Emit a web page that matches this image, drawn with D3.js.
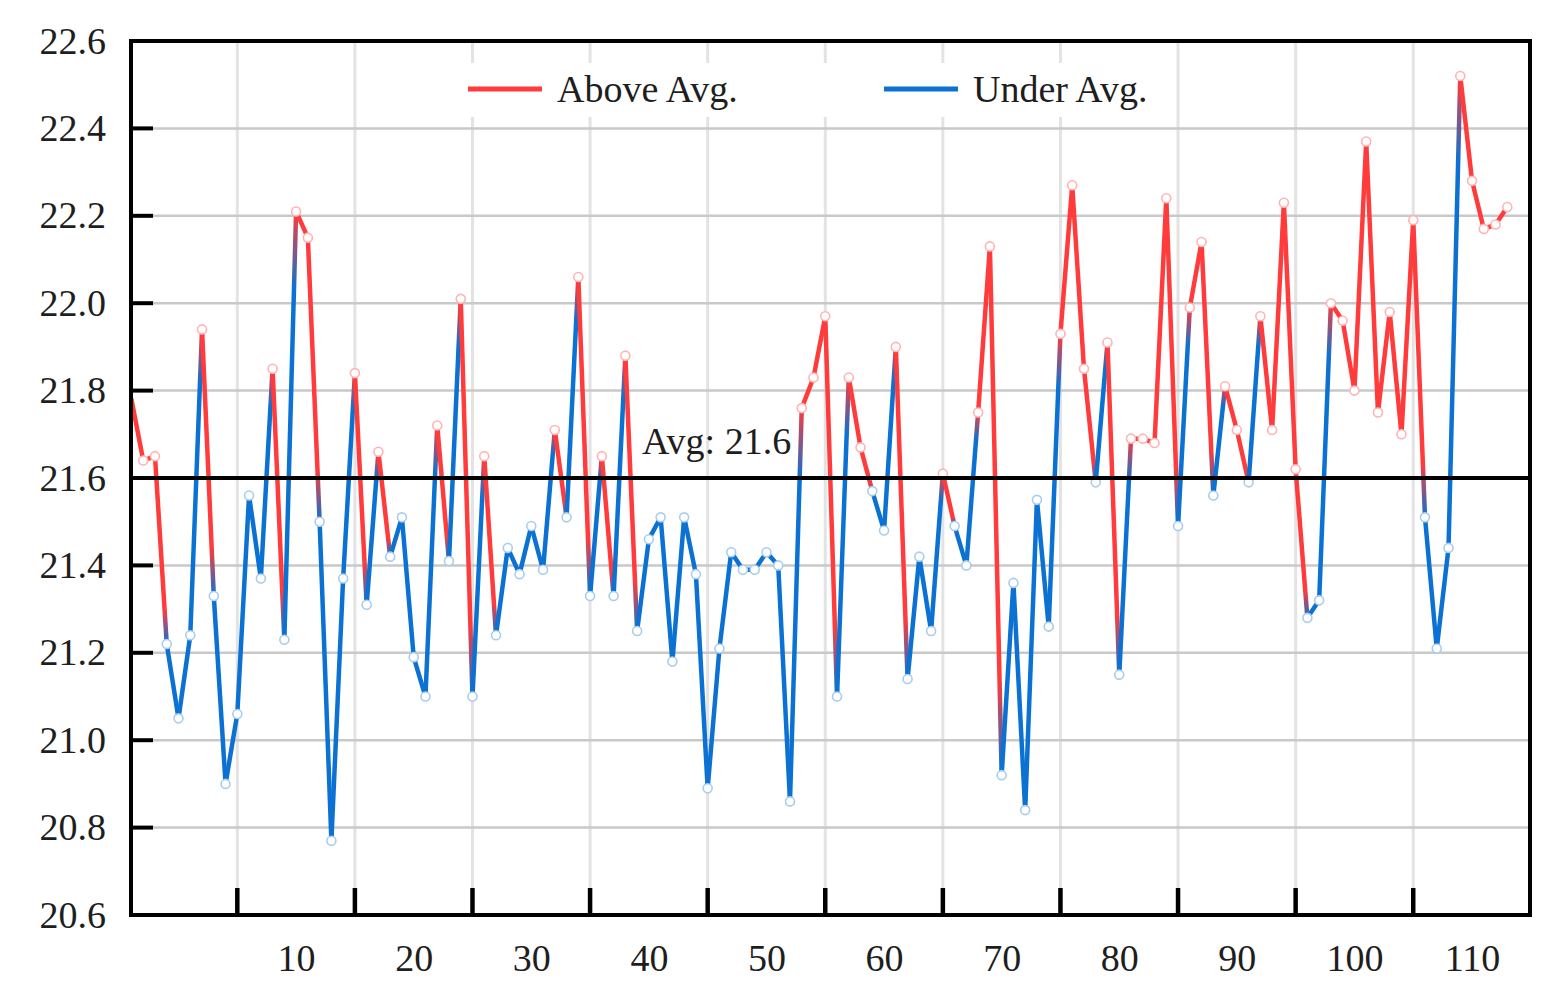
<!DOCTYPE html>
<html>
<head>
<meta charset="utf-8">
<script src="https://cdn.jsdelivr.net/npm/d3@7/dist/d3.min.js"></script>
<style>
  html, body { margin: 0; padding: 0; background: #ffffff; }
  svg { display: block; }
  text { font-family: "Liberation Serif", "DejaVu Serif", serif; fill: #1e1e1e; }
</style>
</head>
<body>
<svg id="chart" width="1561" height="991"></svg>
<script>
// ---------------- data ----------------
const avgValue = 21.6;
const firstIndex = -4;
const values = [
  21.78, 21.64, 21.65, 21.22,
  21.05, 21.24, 21.94, 21.33, 20.90, 21.06, 21.56, 21.37, 21.85, 21.23,
  22.21, 22.15, 21.50, 20.77, 21.37, 21.84, 21.31, 21.66, 21.42, 21.51,
  21.19, 21.10, 21.72, 21.41, 22.01, 21.10, 21.65, 21.24, 21.44, 21.38,
  21.49, 21.39, 21.71, 21.51, 22.06, 21.33, 21.65, 21.33, 21.88, 21.25,
  21.46, 21.51, 21.18, 21.51, 21.38, 20.89, 21.21, 21.43, 21.39, 21.39,
  21.43, 21.40, 20.86, 21.76, 21.83, 21.97, 21.10, 21.83, 21.67, 21.57,
  21.48, 21.90, 21.14, 21.42, 21.25, 21.61, 21.49, 21.40, 21.75, 22.13,
  20.92, 21.36, 20.84, 21.55, 21.26, 21.93, 22.27, 21.85, 21.59, 21.91,
  21.15, 21.69, 21.69, 21.68, 22.24, 21.49, 21.99, 22.14, 21.56, 21.81,
  21.71, 21.59, 21.97, 21.71, 22.23, 21.62, 21.28, 21.32, 22.00, 21.96,
  21.80, 22.37, 21.75, 21.98, 21.70, 22.19, 21.51, 21.21, 21.44, 22.52,
  22.28, 22.17, 22.18, 22.22
];
const indices = values.map((v, i) => firstIndex + i);
const yTickValues = [20.6, 20.8, 21.0, 21.2, 21.4, 21.6, 21.8, 22.0, 22.2, 22.4, 22.6];
const xTickMarks = [5, 15, 25, 35, 45, 55, 65, 75, 85, 95, 105];
const xTickLabels = [10, 20, 30, 40, 50, 60, 70, 80, 90, 100, 110];
const legendLabels = ["Above Avg.", "Under Avg."];

// ---------------- layout ----------------
const pLeft = 131, pRight = 1530, pTop = 41, pBottom = 915;
const RED = "#ff3b3b", BLUE = "#0b72d3";
const FS = 38;

const svg = d3.select("#chart");
const x = d3.scaleLinear().domain([-4.04, 114.93]).range([pLeft, pRight]);
const y = d3.scaleLinear().domain([20.6, 22.6]).range([pBottom, pTop]);

// grid
const grid = svg.append("g");
grid.selectAll("line.v").data(xTickMarks).join("line")
  .attr("class", "v")
  .attr("x1", d => x(d)).attr("x2", d => x(d))
  .attr("y1", pTop).attr("y2", pBottom)
  .attr("stroke", "#e3e3e3").attr("stroke-width", 3);
grid.selectAll("line.h").data(yTickValues.filter(v => v > 20.6 && v < 22.6 && v !== avgValue)).join("line")
  .attr("class", "h")
  .attr("x1", pLeft).attr("x2", pRight)
  .attr("y1", d => y(d)).attr("y2", d => y(d))
  .attr("stroke", "#c9c9c9").attr("stroke-width", 2.5);

// legend background (covers gridlines)
svg.append("rect").attr("x", 455).attr("y", 63).attr("width", 710).attr("height", 54).attr("fill", "#fff");

// y axis
const yAxis = d3.axisLeft(y).tickValues(yTickValues).tickSize(0).tickPadding(25)
  .tickFormat(d3.format(".1f"));
const gy = svg.append("g").attr("transform", `translate(${pLeft},0)`).call(yAxis);
gy.select(".domain").remove();
gy.selectAll("text").attr("font-size", FS).attr("font-family", "Liberation Serif, serif").attr("fill", "#1e1e1e");
// inward y tick marks
svg.append("g").selectAll("line").data(yTickValues.filter(v => v > 20.6 && v < 22.6)).join("line")
  .attr("x1", pLeft).attr("x2", pLeft + 22)
  .attr("y1", d => y(d)).attr("y2", d => y(d))
  .attr("stroke", "#000").attr("stroke-width", 4);

// x axis labels
const xAxis = d3.axisBottom(x).tickValues(xTickLabels).tickSize(0).tickPadding(29).tickFormat(d3.format("d"));
const gx = svg.append("g").attr("transform", `translate(0,${pBottom})`).call(xAxis);
gx.select(".domain").remove();
gx.selectAll("text").attr("font-size", FS).attr("font-family", "Liberation Serif, serif").attr("fill", "#1e1e1e");
// x tick marks (upward)
svg.append("g").selectAll("line").data(xTickMarks).join("line")
  .attr("x1", d => x(d)).attr("x2", d => x(d))
  .attr("y1", pBottom).attr("y2", pBottom - 27)
  .attr("stroke", "#000").attr("stroke-width", 4.5);

// data segments with gradient to next point's colour
const defs = svg.append("defs");
const pts = values.map((v, i) => ({ i: indices[i], v }));
const colorOf = v => (v > avgValue ? RED : BLUE);
const segs = d3.pairs(pts);
segs.forEach(([a, b], k) => {
  const g = defs.append("linearGradient").attr("id", "seg" + k)
    .attr("gradientUnits", "userSpaceOnUse")
    .attr("x1", x(a.i)).attr("y1", y(a.v)).attr("x2", x(b.i)).attr("y2", y(b.v));
  g.append("stop").attr("offset", 0).attr("stop-color", colorOf(a.v));
  g.append("stop").attr("offset", 0.82).attr("stop-color", colorOf(a.v));
  g.append("stop").attr("offset", 1).attr("stop-color", colorOf(b.v));
});
const lineG = svg.append("g");
lineG.selectAll("line").data(segs).join("line")
  .attr("x1", d => x(d[0].i)).attr("y1", d => y(d[0].v))
  .attr("x2", d => x(d[1].i)).attr("y2", d => y(d[1].v))
  .attr("stroke", (d, k) => `url(#seg${k})`)
  .attr("stroke-width", 4.5).attr("stroke-linecap", "round");

// markers
svg.append("g").selectAll("circle").data(pts.slice(1)).join("circle")
  .attr("cx", d => x(d.i)).attr("cy", d => y(d.v)).attr("r", 4.5)
  .attr("fill", "#fff")
  .attr("stroke", d => d.v > avgValue ? "#ffb4b4" : "#a9cdee")
  .attr("stroke-width", 1.6);

// average line
svg.append("line").attr("x1", pLeft).attr("x2", pRight)
  .attr("y1", y(avgValue)).attr("y2", y(avgValue))
  .attr("stroke", "#000").attr("stroke-width", 4);
svg.append("text").attr("x", 642).attr("y", y(avgValue) - 24)
  .attr("font-size", FS).text("Avg: " + avgValue);

// frame
svg.append("rect").attr("x", pLeft).attr("y", pTop).attr("width", pRight - pLeft).attr("height", pBottom - pTop)
  .attr("fill", "none").attr("stroke", "#000").attr("stroke-width", 4);

// legend
const legendItems = [
  { label: legendLabels[0], color: RED, x0: 468 },
  { label: legendLabels[1], color: BLUE, x0: 884 }
];
const lg = svg.append("g").selectAll("g").data(legendItems).join("g");
lg.append("line").attr("x1", d => d.x0).attr("x2", d => d.x0 + 74)
  .attr("y1", 89).attr("y2", 89).attr("stroke", d => d.color).attr("stroke-width", 5);
lg.append("text").attr("x", d => d.x0 + 89).attr("y", 102).attr("font-size", FS).text(d => d.label);
</script>
</body>
</html>
